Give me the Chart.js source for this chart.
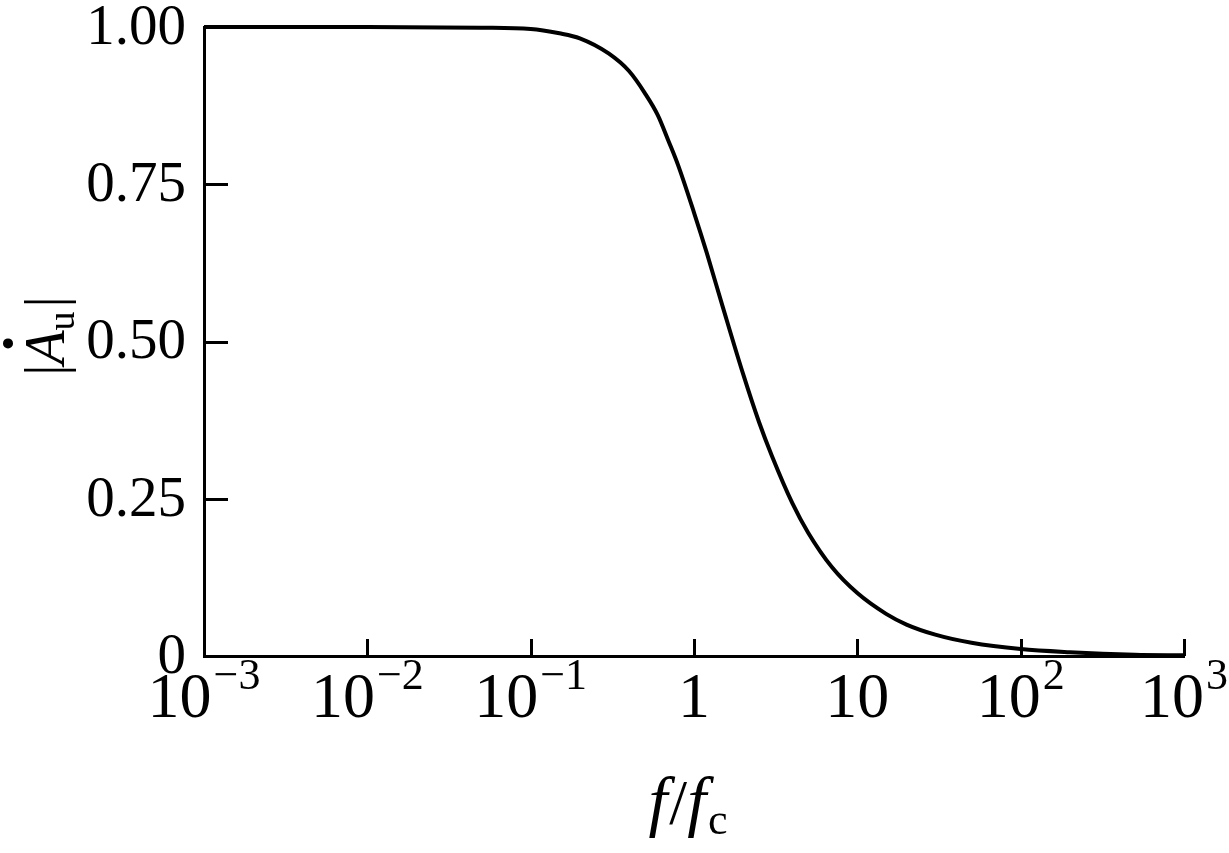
<!DOCTYPE html>
<html>
<head>
<meta charset="utf-8">
<script src="https://cdn.jsdelivr.net/npm/chart.js@4.4.0/dist/chart.umd.min.js"></script>
<style>
  html, body { margin: 0; padding: 0; background: #fff; }
</style>
</head>
<body>
<canvas id="gain-chart" width="1229" height="853"></canvas>
<script>
// values
const freqRatio = [0.001, 0.01, 0.05, 0.1, 0.15, 0.2, 0.3, 0.4, 0.5, 0.6, 0.7, 0.8, 1, 1.2, 1.5, 2, 2.5, 3, 4, 5, 7, 10, 15, 20, 30, 50, 100, 200, 500, 1000];
const gain = [1.0, 1.0, 0.999, 0.997, 0.99, 0.982, 0.958, 0.93, 0.895, 0.86, 0.818, 0.78, 0.705, 0.64, 0.555, 0.448, 0.372, 0.318, 0.243, 0.196, 0.141, 0.1, 0.067, 0.05, 0.034, 0.021, 0.011, 0.006, 0.002, 0.001];

const xTickValues = [0.001, 0.01, 0.1, 1, 10, 100, 1000];
const xTickBase = ['10', '10', '10', '1', '10', '10', '10'];
const xTickExp = ['\u22123', '\u22122', '\u22121', '', '', '2', '3'];
const yTickValues = [0, 0.25, 0.5, 0.75, 1];
const yTickLabels = ['0', '0.25', '0.50', '0.75', '1.00'];

const serif = '"Liberation Serif", "Times New Roman", serif';

// inward ticks, tick labels with superscripts and the two axis titles
const axisDecor = {
  id: 'axisDecor',
  afterDraw(chart) {
    const ctx = chart.ctx;
    const xs = chart.scales.x;
    const ys = chart.scales.y;
    const area = chart.chartArea;
    ctx.save();
    ctx.strokeStyle = '#000';
    ctx.fillStyle = '#000';
    ctx.lineWidth = 3;

    // y ticks, pointing right
    yTickValues.forEach(v => {
      const py = Math.round(ys.getPixelForValue(v)) + 0.5;
      ctx.beginPath();
      ctx.moveTo(area.left, py);
      ctx.lineTo(area.left + 24, py);
      ctx.stroke();
    });
    // x ticks, pointing up
    xTickValues.forEach(v => {
      const px = Math.round(xs.getPixelForValue(v)) + 0.5;
      ctx.beginPath();
      ctx.moveTo(px, area.bottom);
      ctx.lineTo(px, area.bottom - 17);
      ctx.stroke();
    });

    // y tick labels
    ctx.font = '57px ' + serif;
    ctx.textAlign = 'right';
    ctx.textBaseline = 'middle';
    yTickValues.forEach((v, i) => {
      ctx.fillText(yTickLabels[i], area.left - 18, ys.getPixelForValue(v) + 2);
    });

    // x tick labels
    ctx.textAlign = 'left';
    ctx.textBaseline = 'alphabetic';
    xTickValues.forEach((v, i) => {
      ctx.font = '64px ' + serif;
      const wBase = ctx.measureText(xTickBase[i]).width;
      ctx.font = '44px ' + serif;
      const wExp = xTickExp[i] ? ctx.measureText(xTickExp[i]).width + 2 : 0;
      const start = xs.getPixelForValue(v) - (wBase + wExp) / 2;
      ctx.font = '64px ' + serif;
      ctx.fillText(xTickBase[i], start, 717);
      if (xTickExp[i]) {
        ctx.font = '44px ' + serif;
        ctx.fillText(xTickExp[i], start + wBase + 2, 689);
      }
    });

    // x title: f/fc
    const cx = 688;
    ctx.font = 'italic 68px ' + serif;
    const wf = ctx.measureText('f').width;
    ctx.font = '64px ' + serif;
    const ws = ctx.measureText('/').width;
    ctx.font = '44px ' + serif;
    const wc = ctx.measureText('c').width;
    let tx = cx - (wf * 2 + ws + wc + 4) / 2;
    ctx.font = 'italic 68px ' + serif;
    ctx.fillText('f', tx, 824);
    tx += wf + 2;
    ctx.font = '64px ' + serif;
    ctx.fillText('/', tx, 824);
    tx += ws;
    ctx.font = 'italic 68px ' + serif;
    ctx.fillText('f', tx, 824);
    tx += wf + 2;
    ctx.font = '44px ' + serif;
    ctx.fillText('c', tx, 834);

    // y title: |A(dot)u|, rotated
    ctx.translate(64, 336);
    ctx.rotate(-Math.PI / 2);
    ctx.font = '56px ' + serif;
    const wBar = ctx.measureText('|').width;
    ctx.font = 'italic 56px ' + serif;
    const wA = ctx.measureText('A').width;
    ctx.font = '38px ' + serif;
    const wu = ctx.measureText('u').width;
    let ty = -(wBar * 2 + wA + wu + 4) / 2;
    ctx.font = '56px ' + serif;
    ctx.fillText('|', ty, 0);
    ty += wBar;
    ctx.font = 'italic 56px ' + serif;
    ctx.fillText('A', ty, 0);
    ctx.beginPath();
    ctx.arc(ty + wA * 0.62, -56, 5, 0, Math.PI * 2);
    ctx.fill();
    ty += wA;
    ctx.font = '38px ' + serif;
    ctx.fillText('u', ty, 10);
    ty += wu + 4;
    ctx.font = '56px ' + serif;
    ctx.fillText('|', ty, 0);
    ctx.restore();
  }
};

const gainChart = new Chart(document.getElementById('gain-chart'), {
  type: 'line',
  data: {
    datasets: [{
      data: freqRatio.map((f, i) => ({ x: f, y: gain[i] })),
      borderColor: '#000',
      borderWidth: 4,
      pointRadius: 0,
      fill: false,
      cubicInterpolationMode: 'monotone',
      clip: 6
    }]
  },
  options: {
    responsive: false,
    animation: false,
    layout: {
      padding: { left: 196, right: 45, top: 27, bottom: 189 }
    },
    scales: {
      x: {
        type: 'logarithmic',
        min: 0.001,
        max: 1000,
        ticks: { display: false },
        grid: { display: false },
        border: { display: true, color: '#000', width: 3 }
      },
      y: {
        min: 0,
        max: 1,
        ticks: { display: false },
        grid: { display: false },
        border: { display: true, color: '#000', width: 3 }
      }
    },
    plugins: {
      legend: { display: false },
      tooltip: { enabled: false }
    }
  },
  plugins: [axisDecor]
});
</script>
</body>
</html>
